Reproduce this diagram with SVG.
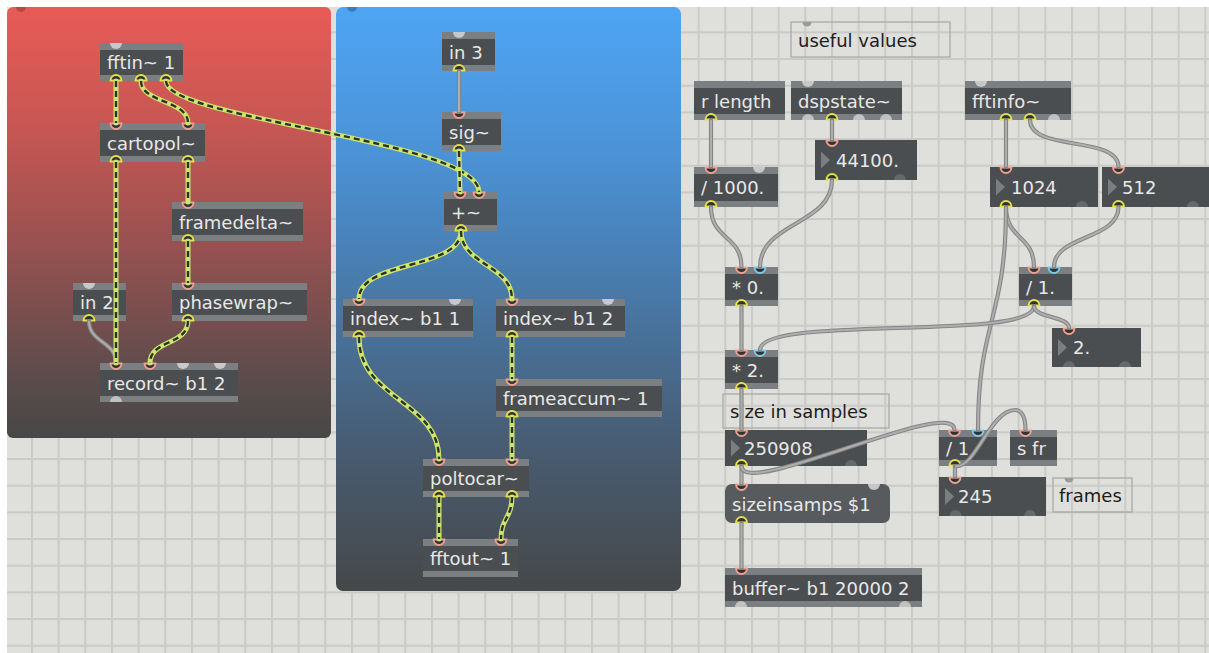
<svg xmlns="http://www.w3.org/2000/svg" width="1209" height="653" viewBox="0 0 1209 653">
<style>
.bar{fill:#7c7f81}
.body{fill:#4a4e50}
.msg{fill:#575b5d}
.t{font-family:"DejaVu Sans","Liberation Sans",sans-serif;font-size:18px;fill:#e8e8e8}
.c{font-family:"DejaVu Sans","Liberation Sans",sans-serif;font-size:18px;fill:#1c1c1c}
.cbox{fill:none;stroke:#a6a6a2;stroke-width:1.2}
.tri{fill:#7a7e80}
.sb{fill:none;stroke:#cde56a;stroke-width:5;stroke-linecap:round}
.sd{fill:none;stroke:#2c312c;stroke-width:2.4;stroke-dasharray:6 4}
.gb{fill:none;stroke:#858585;stroke-width:4.2;stroke-linecap:round}
.gi{fill:none;stroke:#aeaeae;stroke-width:2}
</style>
<defs>
<pattern id="grid" x="4.3" y="4.7" width="26.667" height="26.667" patternUnits="userSpaceOnUse">
<rect width="26.667" height="26.667" fill="#dfe0db"/>
<rect width="26.667" height="2" fill="#cacbc6"/>
<rect width="2" height="26.667" fill="#cacbc6"/>
</pattern>
<linearGradient id="gRed" x1="0" y1="0" x2="0" y2="1">
<stop offset="0" stop-color="#e85b56"/>
<stop offset="0.3" stop-color="#c45653"/>
<stop offset="0.6" stop-color="#8f5050"/>
<stop offset="0.85" stop-color="#5e4c4c"/>
<stop offset="1" stop-color="#474747"/>
</linearGradient>
<linearGradient id="gBlue" x1="0" y1="0" x2="0" y2="1">
<stop offset="0" stop-color="#4ea5f4"/>
<stop offset="0.25" stop-color="#4b92d6"/>
<stop offset="0.5" stop-color="#4878a6"/>
<stop offset="0.75" stop-color="#485c72"/>
<stop offset="1" stop-color="#464849"/>
</linearGradient>
<path id="inP" d="M-5.5 0.5 A5.5 5.5 0 0 0 5.5 0.5 Z" fill="#2f3334" stroke="#f0a090" stroke-width="1.8"/>
<path id="inC" d="M-5.5 0.5 A5.5 5.5 0 0 0 5.5 0.5 Z" fill="#2f3334" stroke="#7cc9ea" stroke-width="1.8"/>
<path id="outY" d="M-5.5 -0.5 A5.5 5.5 0 0 1 5.5 -0.5 Z" fill="#2f3334" stroke="#e4e04c" stroke-width="1.8"/>
<path id="bumpT" d="M-6 0 A6 6 0 0 0 6 0 Z" fill="#c8c8c8"/>
<path id="bumpB" d="M-6 0 A6 6 0 0 1 6 0 Z" fill="#c2c2c2"/>
<path id="bumpN" d="M-6 0 A6 6 0 0 1 6 0 Z" fill="#65696b"/>
<path id="bumpC" d="M-4.5 0 A4.5 4.5 0 0 0 4.5 0 Z" fill="#9a9a9a"/>
</defs>

<rect width="1209" height="653" fill="#ffffff"/>
<rect x="7" y="7" width="1202" height="646" fill="url(#grid)"/>

<g id="panel-red">
<rect x="7" y="7" width="324" height="431" rx="6" fill="url(#gRed)"/>
<path d="M16 7 A5 5 0 0 0 26 7 Z" fill="#b84843"/>
</g>
<g id="panel-blue">
<rect x="336" y="7" width="345" height="584" rx="7" fill="url(#gBlue)"/>
<path d="M347 7 A5 5 0 0 0 357 7 Z" fill="#3a7cc0"/>
</g>

<!-- red panel nodes -->
<g id="fftin">
<rect class="body" x="100" y="43" width="83" height="38"/><rect class="bar" x="100" y="43" width="83" height="7"/><rect class="bar" x="100" y="75" width="83" height="6"/>
<text class="t" x="107" y="69">fftin~ 1</text>
<use href="#bumpT" x="116" y="43"/><use href="#outY" x="116" y="81"/><use href="#outY" x="141" y="81"/><use href="#outY" x="166" y="81"/>
</g>
<g id="cartopol">
<rect class="body" x="100" y="123" width="105" height="39"/><rect class="bar" x="100" y="123" width="105" height="7"/><rect class="bar" x="100" y="156" width="105" height="6"/>
<text class="t" x="107" y="149.5">cartopol~</text>
<use href="#inP" x="116" y="123"/><use href="#inP" x="188" y="123"/><use href="#outY" x="116" y="162"/><use href="#outY" x="188" y="162"/>
</g>
<g id="framedelta">
<rect class="body" x="172" y="202" width="131" height="39"/><rect class="bar" x="172" y="202" width="131" height="7"/><rect class="bar" x="172" y="235" width="131" height="6"/>
<text class="t" x="179" y="228.5">framedelta~</text>
<use href="#inP" x="188" y="202"/><use href="#outY" x="188" y="241"/>
</g>
<g id="in2">
<rect class="body" x="73" y="283" width="53" height="38"/><rect class="bar" x="73" y="283" width="53" height="7"/><rect class="bar" x="73" y="315" width="53" height="6"/>
<text class="t" x="80" y="309">in 2</text>
<use href="#bumpT" x="89" y="283"/><use href="#outY" x="89" y="321"/>
</g>
<g id="phasewrap">
<rect class="body" x="172" y="283" width="135" height="38"/><rect class="bar" x="172" y="283" width="135" height="7"/><rect class="bar" x="172" y="315" width="135" height="6"/>
<text class="t" x="179" y="309">phasewrap~</text>
<use href="#inP" x="188" y="283"/><use href="#outY" x="188" y="321"/>
</g>
<g id="record">
<rect class="body" x="100" y="363" width="138" height="39"/><rect class="bar" x="100" y="363" width="138" height="7"/><rect class="bar" x="100" y="396" width="138" height="6"/>
<text class="t" x="107" y="389.5">record~ b1 2</text>
<use href="#inP" x="116" y="363"/><use href="#inP" x="150" y="363"/><use href="#bumpT" x="183" y="363"/><use href="#bumpT" x="220" y="363"/><use href="#bumpB" x="116" y="402"/>
</g>

<!-- blue panel nodes -->
<g id="in3">
<rect class="body" x="442" y="32" width="53" height="39"/><rect class="bar" x="442" y="32" width="53" height="7"/><rect class="bar" x="442" y="65" width="53" height="6"/>
<text class="t" x="449" y="58.5">in 3</text>
<use href="#bumpT" x="459" y="32"/><use href="#outY" x="459" y="71"/>
</g>
<g id="sig">
<rect class="body" x="442" y="112" width="59" height="39"/><rect class="bar" x="442" y="112" width="59" height="7"/><rect class="bar" x="442" y="145" width="59" height="6"/>
<text class="t" x="449" y="138.5">sig~</text>
<use href="#inP" x="459" y="112"/><use href="#outY" x="459" y="151"/>
</g>
<g id="plus">
<rect class="body" x="444" y="192" width="53" height="39"/><rect class="bar" x="444" y="192" width="53" height="7"/><rect class="bar" x="444" y="225" width="53" height="6"/>
<text class="t" x="451" y="218.5">+~</text>
<use href="#inP" x="460" y="192"/><use href="#inP" x="479" y="192"/><use href="#outY" x="461" y="231"/>
</g>
<g id="index1">
<rect class="body" x="343" y="299" width="130" height="38"/><rect class="bar" x="343" y="299" width="130" height="7"/><rect class="bar" x="343" y="331" width="130" height="6"/>
<text class="t" x="350" y="325">index~ b1 1</text>
<use href="#inP" x="359" y="299"/><use href="#bumpT" x="455" y="299"/><use href="#outY" x="359" y="337"/>
</g>
<g id="index2">
<rect class="body" x="496" y="299" width="129" height="38"/><rect class="bar" x="496" y="299" width="129" height="7"/><rect class="bar" x="496" y="331" width="129" height="6"/>
<text class="t" x="503" y="325">index~ b1 2</text>
<use href="#inP" x="512" y="299"/><use href="#bumpT" x="608" y="299"/><use href="#outY" x="512" y="337"/>
</g>
<g id="frameaccum">
<rect class="body" x="496" y="379" width="166" height="38"/><rect class="bar" x="496" y="379" width="166" height="7"/><rect class="bar" x="496" y="411" width="166" height="6"/>
<text class="t" x="503" y="405">frameaccum~ 1</text>
<use href="#inP" x="512" y="379"/><use href="#outY" x="512" y="417"/>
</g>
<g id="poltocar">
<rect class="body" x="423" y="459" width="106" height="38"/><rect class="bar" x="423" y="459" width="106" height="7"/><rect class="bar" x="423" y="491" width="106" height="6"/>
<text class="t" x="430" y="485">poltocar~</text>
<use href="#inP" x="439" y="459"/><use href="#inP" x="512" y="459"/><use href="#outY" x="439" y="497"/><use href="#outY" x="512" y="497"/>
</g>
<g id="fftout">
<rect class="body" x="423" y="539" width="95" height="38"/><rect class="bar" x="423" y="539" width="95" height="7"/><rect class="bar" x="423" y="571" width="95" height="6"/>
<text class="t" x="430" y="565">fftout~ 1</text>
<use href="#inP" x="439" y="539"/><use href="#inP" x="501" y="539"/>
</g>

<!-- right area nodes -->
<g id="c-useful">
<rect class="cbox" x="791" y="22" width="159" height="35"/>
<use href="#bumpC" x="807" y="22"/>
<text class="c" x="798" y="47">useful values</text>
</g>
<g id="rlength">
<rect class="body" x="694" y="81" width="91" height="39"/><rect class="bar" x="694" y="81" width="91" height="7"/><rect class="bar" x="694" y="114" width="91" height="6"/>
<text class="t" x="701" y="107.5">r length</text>
<use href="#outY" x="711" y="120"/>
</g>
<g id="dspstate">
<rect class="body" x="791" y="81" width="111" height="39"/><rect class="bar" x="791" y="81" width="111" height="7"/><rect class="bar" x="791" y="114" width="111" height="6"/>
<text class="t" x="798" y="107.5">dspstate~</text>
<use href="#bumpT" x="808" y="81"/><use href="#bumpB" x="808" y="120"/><use href="#outY" x="832" y="120"/><use href="#bumpB" x="859" y="120"/><use href="#bumpB" x="886" y="120"/>
</g>
<g id="n44100">
<rect class="body" x="815" y="140" width="102" height="40"/>
<path class="tri" d="M821 151.5 L830 160 L821 168.5 Z"/>
<text class="t" x="836" y="166.5">44100.</text>
<use href="#inP" x="832" y="140"/><use href="#outY" x="832" y="180"/><use href="#bumpN" x="900" y="180"/>
</g>
<g id="div1000">
<rect class="body" x="694" y="167" width="84" height="40"/><rect class="bar" x="694" y="167" width="84" height="7"/><rect class="bar" x="694" y="201" width="84" height="6"/>
<text class="t" x="701" y="194">/ 1000.</text>
<use href="#inP" x="711" y="167"/><use href="#bumpT" x="759" y="167"/><use href="#outY" x="711" y="207"/>
</g>
<g id="fftinfo">
<rect class="body" x="965" y="81" width="106" height="39"/><rect class="bar" x="965" y="81" width="106" height="7"/><rect class="bar" x="965" y="114" width="106" height="6"/>
<text class="t" x="972" y="107.5">fftinfo~</text>
<use href="#bumpT" x="981" y="81"/><use href="#outY" x="1006" y="120"/><use href="#outY" x="1030" y="120"/><use href="#bumpB" x="1054" y="120"/>
</g>
<g id="n1024">
<rect class="body" x="990" y="167" width="108" height="40"/>
<path class="tri" d="M996 178.5 L1005 187 L996 195.5 Z"/>
<text class="t" x="1011" y="193.5">1024</text>
<use href="#inP" x="1006" y="167"/><use href="#outY" x="1006" y="207"/><use href="#bumpN" x="1082" y="207"/>
</g>
<g id="n512">
<rect class="body" x="1102" y="167" width="110" height="40"/>
<path class="tri" d="M1108 178.5 L1117 187 L1108 195.5 Z"/>
<text class="t" x="1122" y="193.5">512</text>
<use href="#inP" x="1118.5" y="167"/><use href="#outY" x="1118.5" y="207"/><use href="#bumpN" x="1193" y="207"/>
</g>
<g id="mul0">
<rect class="body" x="725" y="267" width="53" height="39"/><rect class="bar" x="725" y="267" width="53" height="7"/><rect class="bar" x="725" y="300" width="53" height="6"/>
<text class="t" x="732" y="293.5">* 0.</text>
<use href="#inP" x="741.5" y="267"/><use href="#inC" x="760" y="267"/><use href="#outY" x="741.5" y="306"/>
</g>
<g id="div1">
<rect class="body" x="1019" y="267" width="53" height="39"/><rect class="bar" x="1019" y="267" width="53" height="7"/><rect class="bar" x="1019" y="300" width="53" height="6"/>
<text class="t" x="1026" y="293.5">/ 1.</text>
<use href="#inP" x="1034" y="267"/><use href="#inC" x="1054" y="267"/><use href="#outY" x="1034" y="306"/>
</g>
<g id="n2">
<rect class="body" x="1052" y="328" width="89" height="39"/>
<path class="tri" d="M1058 339 L1067 347.5 L1058 356 Z"/>
<text class="t" x="1073" y="354">2.</text>
<use href="#inP" x="1069" y="328"/><use href="#bumpN" x="1069" y="367"/><use href="#bumpN" x="1125" y="367"/>
</g>
<g id="mul2">
<rect class="body" x="725" y="350" width="53" height="39"/><rect class="bar" x="725" y="350" width="53" height="7"/><rect class="bar" x="725" y="383" width="53" height="6"/>
<text class="t" x="732" y="376.5">* 2.</text>
<use href="#inP" x="741.5" y="350"/><use href="#inC" x="760" y="350"/><use href="#outY" x="741.5" y="389"/>
</g>
<g id="c-size">
<rect class="cbox" x="723" y="394" width="166" height="34"/>
<text class="c" x="730" y="418">size in samples</text>
</g>
<g id="n250908">
<rect class="body" x="725" y="430" width="142" height="36"/>
<path class="tri" d="M731 439.5 L740 448 L731 456.5 Z"/>
<text class="t" x="744" y="454.5">250908</text>
<use href="#inP" x="741.5" y="430"/><use href="#outY" x="741.5" y="466"/><use href="#bumpN" x="851" y="466"/>
</g>
<g id="divint">
<rect class="body" x="939" y="430" width="58" height="36"/><rect class="bar" x="939" y="430" width="58" height="7"/><rect class="bar" x="939" y="460" width="58" height="6"/>
<text class="t" x="946" y="455">/ 1</text>
<use href="#inP" x="954.5" y="430"/><use href="#inC" x="978" y="430"/><use href="#outY" x="955" y="466"/>
</g>
<g id="sfr">
<rect class="body" x="1010" y="430" width="47" height="36"/><rect class="bar" x="1010" y="430" width="47" height="7"/><rect class="bar" x="1010" y="460" width="47" height="6"/>
<text class="t" x="1017" y="455">s fr</text>
<use href="#inP" x="1025.5" y="430"/>
</g>
<g id="n245">
<rect class="body" x="939" y="477" width="107" height="39"/>
<path class="tri" d="M945 488 L954 496.5 L945 505 Z"/>
<text class="t" x="958" y="503">245</text>
<use href="#inP" x="955" y="477"/><use href="#bumpN" x="955.5" y="516"/><use href="#bumpN" x="1030" y="516"/>
</g>
<g id="c-frames">
<rect class="cbox" x="1053" y="478" width="79" height="34"/>
<use href="#bumpC" x="1069" y="478"/>
<text class="c" x="1059" y="502">frames</text>
</g>
<g id="msg-sizeinsamps">
<rect class="msg" x="725" y="484" width="165" height="39" rx="7"/>
<text class="t" x="732" y="510.5">sizeinsamps $1</text>
<use href="#inP" x="741.5" y="484"/><use href="#bumpT" x="874" y="484"/><use href="#outY" x="741.5" y="523"/>
</g>
<g id="buffer">
<rect class="body" x="725" y="568" width="197" height="39"/><rect class="bar" x="725" y="568" width="197" height="7"/><rect class="bar" x="725" y="601" width="197" height="6"/>
<text class="t" x="732" y="594.5">buffer~ b1 20000 2</text>
<use href="#inP" x="741.5" y="568"/><use href="#bumpB" x="741" y="607"/><use href="#bumpB" x="905" y="607"/>
</g>

<g id="connectors">
<!-- gray control cords -->
<path class="gb" d="M89 321 C89 343 116 341 116 363"/><path class="gi" d="M89 321 C89 343 116 341 116 363"/>
<path class="gb" d="M459 71 L459 112"/><path class="gi" d="M459 71 L459 112"/>
<path class="gb" d="M711 120 L711 167"/><path class="gi" d="M711 120 L711 167"/>
<path class="gb" d="M832 120 L832 140"/><path class="gi" d="M832 120 L832 140"/>
<path class="gb" d="M832 180 C832 225 760 222 760 267"/><path class="gi" d="M832 180 C832 225 760 222 760 267"/>
<path class="gb" d="M711 207 C711 240 741.5 235 741.5 267"/><path class="gi" d="M711 207 C711 240 741.5 235 741.5 267"/>
<path class="gb" d="M1006 120 L1006 167"/><path class="gi" d="M1006 120 L1006 167"/>
<path class="gb" d="M1030 120 C1030 152 1118.5 135 1118.5 167"/><path class="gi" d="M1030 120 C1030 152 1118.5 135 1118.5 167"/>
<path class="gb" d="M1006 207 C1006 240 1034 235 1034 267"/><path class="gi" d="M1006 207 C1006 240 1034 235 1034 267"/>
<path class="gb" d="M1118.5 207 C1118.5 240 1054 235 1054 267"/><path class="gi" d="M1118.5 207 C1118.5 240 1054 235 1054 267"/>
<path class="gb" d="M1006 207 C1006 320 978 320 978 430"/><path class="gi" d="M1006 207 C1006 320 978 320 978 430"/>
<path class="gb" d="M741.5 306 L741.5 350"/><path class="gi" d="M741.5 306 L741.5 350"/>
<path class="gb" d="M1034 306 C1034 342 760 314 760 350"/><path class="gi" d="M1034 306 C1034 342 760 314 760 350"/>
<path class="gb" d="M1034 306 C1034 318 1069 316 1069 328"/><path class="gi" d="M1034 306 C1034 318 1069 316 1069 328"/>
<path class="gb" d="M741.5 389 L741.5 430"/><path class="gi" d="M741.5 389 L741.5 430"/>
<path class="gb" d="M741.5 466 L741.5 484"/><path class="gi" d="M741.5 466 L741.5 484"/>
<path class="gb" d="M741.5 466 C741.5 500 954.5 395 954.5 430"/><path class="gi" d="M741.5 466 C741.5 500 954.5 395 954.5 430"/>
<path class="gb" d="M955 466 L955 477"/><path class="gi" d="M955 466 L955 477"/>
<path class="gb" d="M955 466 C975 470 990 410 1015 410 C1022 410 1025.5 418 1025.5 430"/><path class="gi" d="M955 466 C975 470 990 410 1015 410 C1022 410 1025.5 418 1025.5 430"/>
<path class="gb" d="M741.5 523 L741.5 568"/><path class="gi" d="M741.5 523 L741.5 568"/>
<!-- signal cords -->
<path class="sb" d="M116 81 L116 123"/><path class="sd" d="M116 81 L116 123"/>
<path class="sb" d="M141 81 C141 103 188 100 188 123"/><path class="sd" d="M141 81 C141 103 188 100 188 123"/>
<path class="sb" d="M166 81 C166 120 479 140 479 192"/><path class="sd" d="M166 81 C166 120 479 140 479 192"/>
<path class="sb" d="M459 151 L460 192"/><path class="sd" d="M459 151 L460 192"/>
<path class="sb" d="M461 231 C461 270 359 260 359 299"/><path class="sd" d="M461 231 C461 270 359 260 359 299"/>
<path class="sb" d="M461 231 C461 265 512 265 512 299"/><path class="sd" d="M461 231 C461 265 512 265 512 299"/>
<path class="sb" d="M116 162 L116 363"/><path class="sd" d="M116 162 L116 363"/>
<path class="sb" d="M188 162 L188 202"/><path class="sd" d="M188 162 L188 202"/>
<path class="sb" d="M188 241 L188 283"/><path class="sd" d="M188 241 L188 283"/>
<path class="sb" d="M188 321 C188 345 150 340 150 363"/><path class="sd" d="M188 321 C188 345 150 340 150 363"/>
<path class="sb" d="M359 337 C359 400 439 400 439 459"/><path class="sd" d="M359 337 C359 400 439 400 439 459"/>
<path class="sb" d="M512 337 L512 379"/><path class="sd" d="M512 337 L512 379"/>
<path class="sb" d="M512 417 L512 459"/><path class="sd" d="M512 417 L512 459"/>
<path class="sb" d="M439 497 L439 539"/><path class="sd" d="M439 497 L439 539"/>
<path class="sb" d="M512 497 C512 518 501 518 501 539"/><path class="sd" d="M512 497 C512 518 501 518 501 539"/>
</g>
</svg>
